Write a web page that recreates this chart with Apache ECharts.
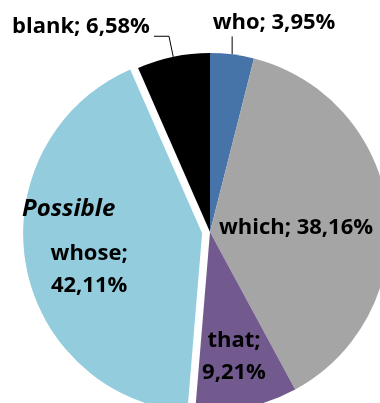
<!DOCTYPE html>
<html>
<head>
<meta charset="utf-8">
<script src="https://cdn.jsdelivr.net/npm/echarts@6/dist/echarts.min.js"></script>
<style>
  html, body { margin: 0; padding: 0; background: #fff; }
  #chart { width: 380px; height: 403px; }
</style>
</head>
<body>
<div id="chart"></div>
<script>
// Relative pronoun shares (percent), clockwise from 12 o'clock
const categories = ['who', 'which', 'that', 'whose', 'blank'];
const shares = [3.95, 38.16, 9.21, 42.11, 6.58];
const sliceColors = ['#4674A9', '#A5A5A5', '#725A8F', '#93CDDD', '#000000'];
const pulledOut = 'whose';

// label placement (centre of each label box, in px; the pulled-out
// slice's label is given relative to the unshifted slice)
const labelSpots = {
  who:   { x: 274, y: 23 },
  which: { x: 296, y: 228 },
  that:  { x: 234, y: 357 },
  whose: { x: 97,  y: 268 },
  blank: { x: 81,  y: 27 }
};

const FONT = 'Open Sans';
const fmt = v => v.toFixed(2).replace('.', ',') + '%';
const twoLine = new Set(['that', 'whose']);

const chart = echarts.init(document.getElementById('chart'), null, { renderer: 'canvas' });

const data = categories.map((name, i) => {
  const outside = name === 'who' || name === 'blank';
  return {
    name,
    value: shares[i],
    selected: name === pulledOut,
    itemStyle: { color: sliceColors[i] },
    label: {
      position: outside ? 'outside' : 'inside',
      formatter: twoLine.has(name) ? '{b};\n' + fmt(shares[i]) : '{b}; ' + fmt(shares[i])
    },
    labelLine: { show: outside }
  };
});

chart.setOption({
  animation: false,
  series: [{
    type: 'pie',
    center: [210, 232],
    radius: 179,
    startAngle: 90,
    clockwise: true,
    selectedMode: 'single',
    selectedOffset: 8,
    avoidLabelOverlap: false,
    itemStyle: { borderWidth: 0 },
    emphasis: { disabled: true },
    label: {
      show: true,
      color: '#000',
      fontFamily: FONT,
      fontWeight: 'bold',
      fontSize: 22,
      lineHeight: 32
    },
    labelLine: {
      show: true,
      length: 21,
      length2: 15,
      lineStyle: { color: '#000', width: 1 }
    },
    labelLayout: function (params) {
      const name = categories[params.dataIndex];
      const spot = labelSpots[name];
      const r = params.labelRect;
      const out = {
        dx: spot.x - (r.x + r.width / 2),
        dy: spot.y - (r.y + r.height / 2)
      };
      const pts = params.labelLinePoints;
      if (pts && pts.length) {
        const p0 = pts[0];
        if (name === 'who') {
          // straight leader rising from the rim to the label
          out.labelLinePoints = [p0, [p0[0], p0[1] - 18]];
        } else {
          out.labelLinePoints = pts;
        }
      }
      return out;
    },
    data
  }],
  graphic: [{
    type: 'text',
    z: 100,
    left: 22,
    top: 197,
    style: {
      text: 'Possible',
      fill: '#000',
      font: 'italic bold 24px "Open Sans"'
    }
  }]
});
</script>
</body>
</html>
